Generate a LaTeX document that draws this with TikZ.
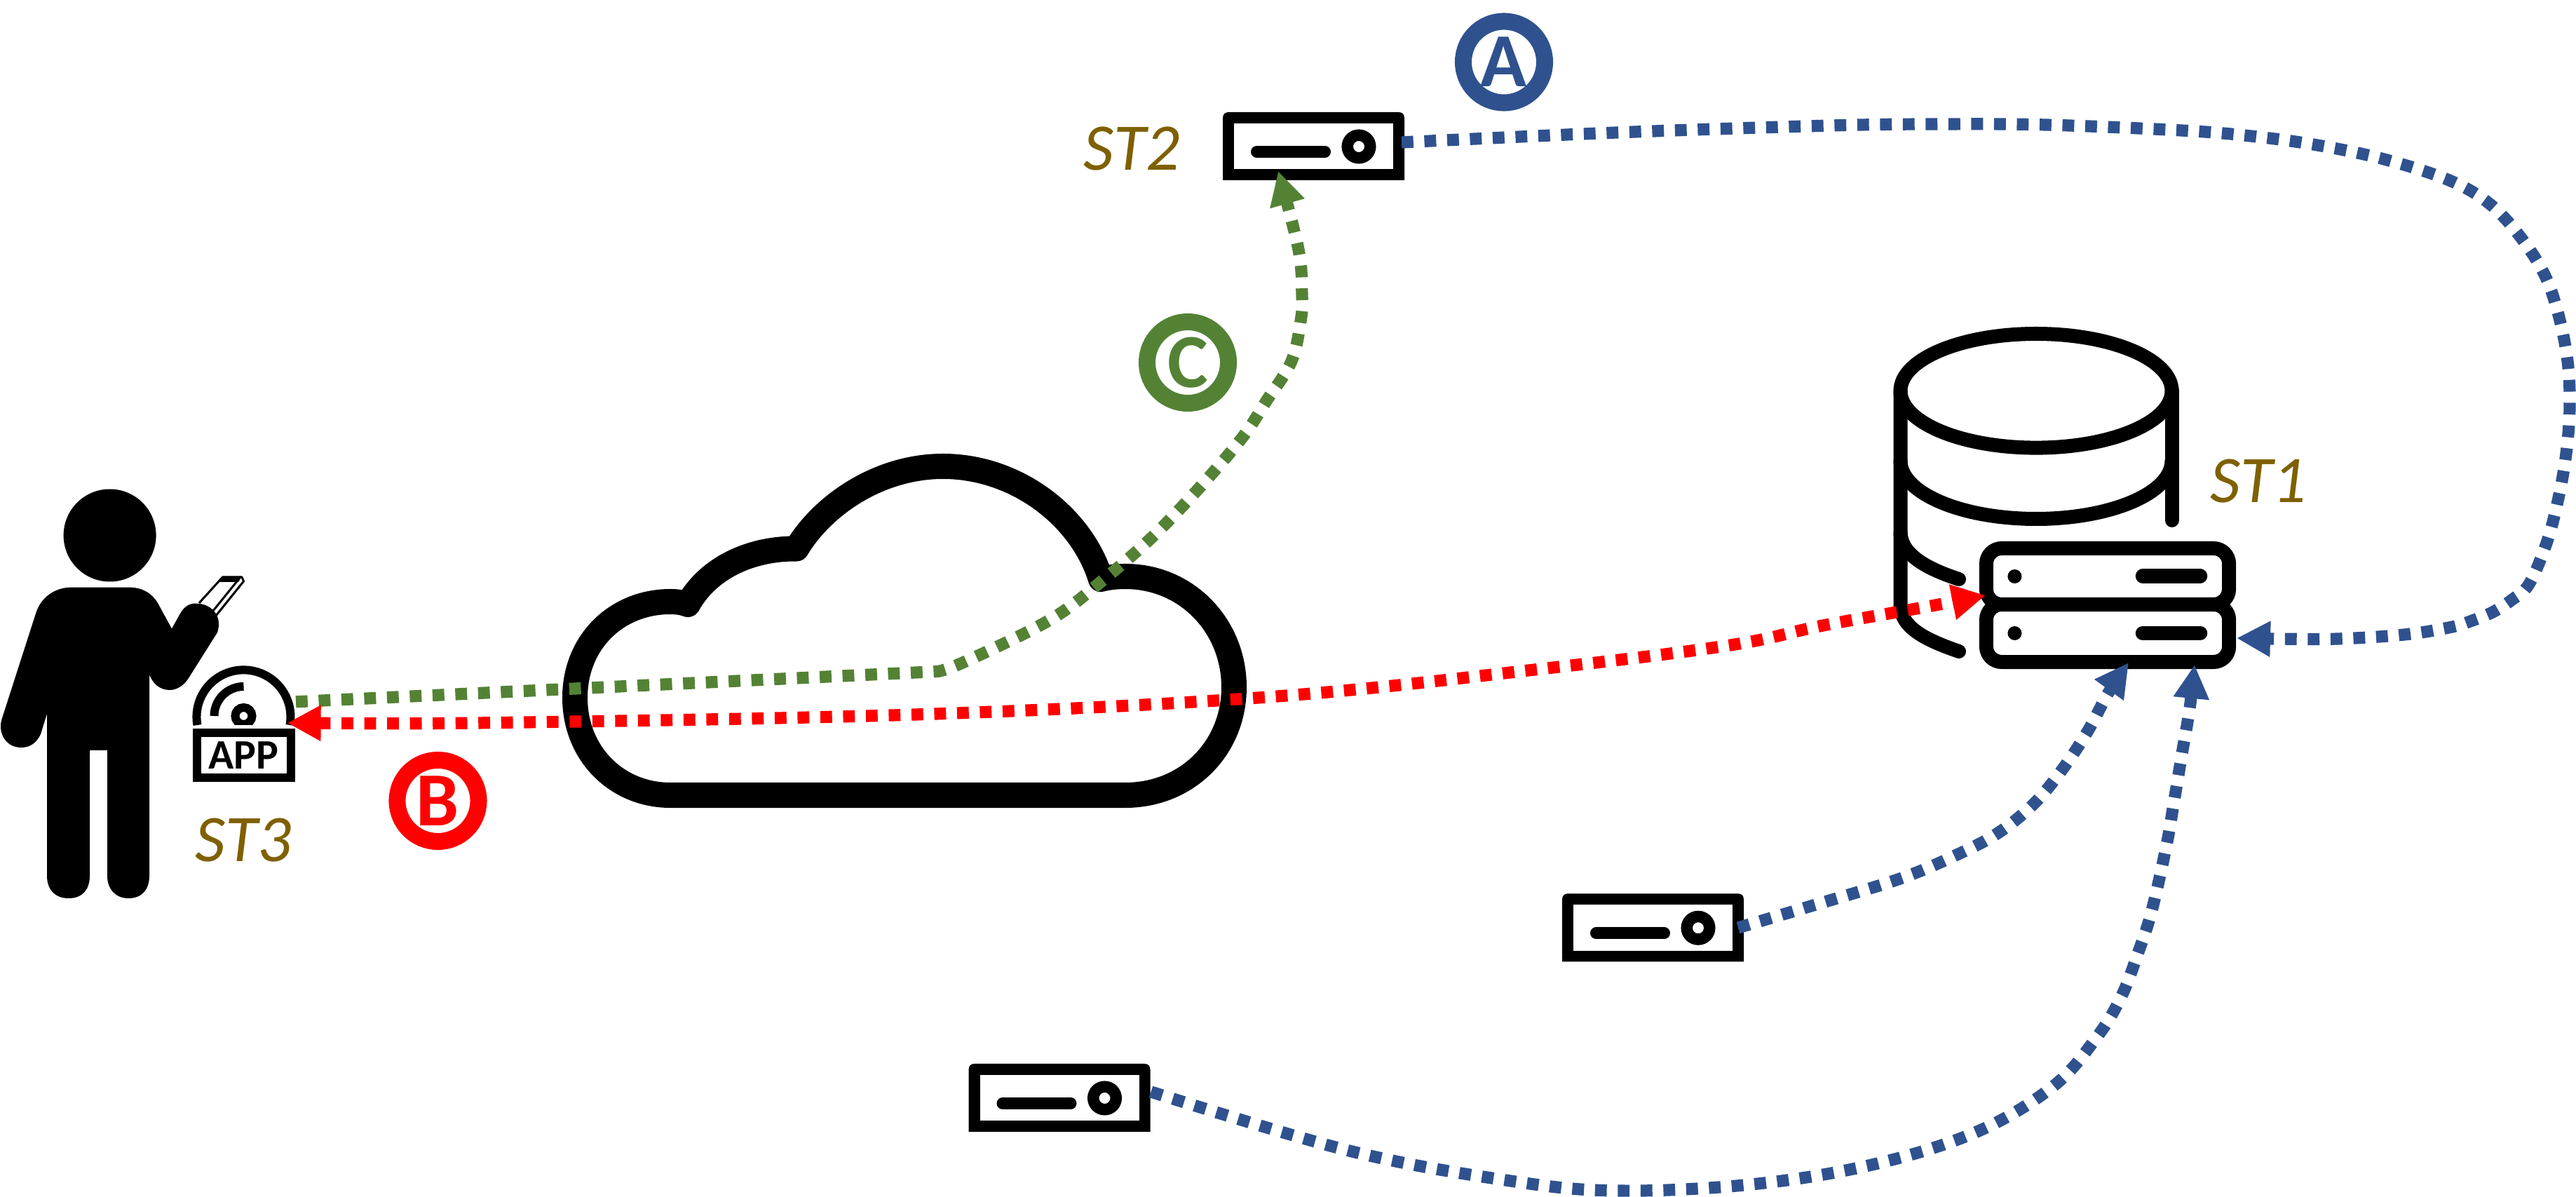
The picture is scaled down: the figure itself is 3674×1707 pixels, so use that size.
\documentclass[tikz,border=0pt]{standalone}
\usepackage{fontspec}
\setmainfont{Carlito}
\usetikzlibrary{arrows.meta}
\definecolor{cblue}{HTML}{2F528F}
\definecolor{cgreen}{HTML}{548235}
\definecolor{cred}{HTML}{FF0000}
\definecolor{cbrown}{HTML}{7F6000}
\tikzset{
  stlabel/.style={font=\fontsize{27}{27}\selectfont\itshape, text=cbrown, inner sep=0pt},
  badge/.style={circle, draw=#1, text=#1, line width=0.24cm, minimum size=1.16cm, inner sep=0pt, font=\fontsize{31}{31}\selectfont\bfseries},
  anchorbox/.style={rectangle, minimum width=2.59cm, minimum height=0.97cm, inner sep=0pt, outer sep=0pt},
  flow/.style={line width=0.172cm, dash pattern=on 0.168cm off 0.157cm, color=#1},
  headend/.style={-{Triangle[length=0.48cm,width=0.48cm]}},
  headboth/.style={{Triangle[length=0.48cm,width=0.48cm]}-{Triangle[length=0.48cm,width=0.48cm]}},
  icon/.style={draw=black, line width=0.2cm, line cap=round, line join=round},
}
\newcommand{\serverIcon}[3]{%
  \node[anchorbox] (#1) at (#2,#3) {};
  \begin{scope}[shift={(#2,#3)}]
    \fill[black] (-129.5,48.5) -- (-129.5,-40) .. controls (-129.5,-46) and (-126,-48.5) .. (-121,-48.5)
      -- (121,-48.5) .. controls (126,-48.5) and (129.5,-46) .. (129.5,-40) -- (129.5,48.5) -- cycle;
    \fill[white] (-113.5,-32.5) rectangle (113.5,33);
    \draw[line width=0.17cm, line cap=round] (-81,8) -- (16,8);
    \draw[line width=0.165cm] (64.5,0.5) circle[radius=16.25];
  \end{scope}
}
\begin{document}
\begin{tikzpicture}[x=0.01cm,y=-0.01cm]
\useasboundingbox (0,0) rectangle (3674,1707);
\fill[white] (0,0) rectangle (3674,1707);

% person
\fill[black] (156.6,763.5) circle[radius=66];
\fill[black] (102,837.6) -- (184,837.6) .. controls (205,837.6) and (218,848) .. (225,860)
  -- (245,896.5) -- (257,875) .. controls (263,864) and (272,859) .. (283.5,861)
  .. controls (300,862) and (312,875) .. (312,889) .. controls (312,895) and (311,899) .. (310,902)
  -- (269,967) .. controls (262,978) and (252,984) .. (242,984) .. controls (228,984) and (218,975) .. (213,962)
  -- (213,1249) .. controls (213,1268) and (203,1281) .. (183,1281) .. controls (165,1281) and (153,1268) .. (153,1249)
  -- (153,1070) -- (128,1070) -- (128,1249) .. controls (128,1268) and (118,1281) .. (98,1281)
  .. controls (78,1281) and (67,1268) .. (67,1249) -- (67,1018) -- (58,1047)
  .. controls (52,1060) and (42,1066) .. (30.5,1066) .. controls (12,1066) and (1,1052) .. (1,1036)
  .. controls (1,1032) and (1.5,1029) .. (2.4,1026) -- (51,875) .. controls (58,852) and (78,837.6) .. (102,837.6) -- cycle;
% phone
\fill[black] (317.5,822) -- (345,822) -- (340,830) -- (312,830) -- cycle;
\draw[black, line width=0.03cm, line join=round] (284,860) -- (317.5,823) -- (345,823) -- (347.5,829) -- (308,878);
\draw[black, line width=0.03cm] (338,829) -- (304,871);

% app icon
\node[rectangle, draw=black, line width=0.12cm, minimum width=1.34cm, minimum height=0.63cm, inner sep=0pt, font=\fontsize{17}{17}\selectfont\bfseries] (app) at (347.7,1077) {APP};
\draw[black, line width=0.12cm] (281.5,1034) arc[start angle=170, end angle=370, radius=67];
\draw[black, line width=0.12cm] (305.5,1021) arc[start angle=180, end angle=270, radius=42];
\begin{scope}
  \clip (320,995) rectangle (375,1034);
  \draw[black, line width=0.12cm] (347.5,1021) circle[radius=12];
\end{scope}

% cloud
\draw[black, line width=0.36cm, line join=round] (956,1134)
  .. controls (880,1134) and (820,1075) .. (820,995)
  .. controls (820,915) and (880,858) .. (956,858)
  .. controls (965,858) and (973,859) .. (981,862)
  .. controls (1010,810) and (1070,782) .. (1136,782.5)
  .. controls (1172,722) and (1252,665) .. (1345,665)
  .. controls (1448,665) and (1542,735) .. (1570,826)
  .. controls (1582,823) and (1593,822) .. (1605,822)
  .. controls (1693,822) and (1760,893) .. (1760,980)
  .. controls (1760,1067) and (1693,1134) .. (1605,1134) -- cycle;
\node[inner sep=0pt] (cloud) at (1290,900) {};

% database
\draw[icon] (2904,557.3) circle[x radius=193.5, y radius=81.3];
\draw[icon] (2710.5,557) -- (2710.5,864) .. controls (2712,895) and (2745,912) .. (2794,929);
\draw[icon] (3097.5,557) -- (3097.5,742);
\draw[icon] (2710.5,657) .. controls (2710.5,703) and (2797,740) .. (2904,740) .. controls (3011,740) and (3097.5,703) .. (3097.5,657);
\draw[icon] (2710.5,760) .. controls (2712,790) and (2745,810) .. (2794,826);
% server stack
\node[rectangle, draw=black, line width=0.2cm, rounded corners=0.22cm, minimum width=3.46cm, minimum height=0.8cm, inner sep=0pt] (stackup) at (3006,822) {};
\node[rectangle, draw=black, line width=0.2cm, rounded corners=0.22cm, minimum width=3.46cm, minimum height=0.82cm, inner sep=0pt] (stacklow) at (3006,903) {};
\fill[black] (2873.4,822) circle[radius=10];
\fill[black] (2873.4,903) circle[radius=10];
\draw[black, line width=0.205cm, line cap=round] (3056,821.5) -- (3138,821.5);
\draw[black, line width=0.205cm, line cap=round] (3056,903) -- (3138,903);

% small servers
\serverIcon{srvA}{1873.5}{208.5}
\serverIcon{srvB}{2357.5}{1322.8}
\serverIcon{srvC}{1511}{1565.5}

% labels
\node[stlabel] (stone) at (3221,686) {ST1};
\node[stlabel] (sttwo) at (1614,212) {ST2};
\node[stlabel] (stthree) at (347,1198) {ST3};
\node[badge=cblue] (ba) at (2145,88.5) {A};
\node[badge=cred] (bb) at (624.5,1142) {B};
\node[badge=cgreen] (bc) at (1694,517) {C};

% connector ends
\coordinate (aout) at (1999,203);
\coordinate (ain) at (3190,910);
\coordinate (bout) at (2479,1323);
\coordinate (bin) at (3036,945);
\coordinate (cout) at (1641.6,1557);
\coordinate (cin) at (3130,948);
\coordinate (gout) at (422,1000.8);
\coordinate (gin) at (1823,244);
\coordinate (rapp) at (409.6,1031);
\coordinate (rdb) at (2832,849);

% connectors
\draw[flow=cblue, headend] plot[smooth, tension=0.6] coordinates {(aout) (2306,189) (2612,179) (2765,177) (2918,178) (3111,186) (3210,194) (3305,207) (3400,227) (3493,257) (3550,290) (3594,337) (3629,391.5) (3649,449) (3662,515) (3665,581) (3660,646.6) (3649,710) (3632.5,773) (3607,833) (3583,855) (3556,872.5) (3526,885) (3495,894.5) (3429,905) (3334,911) (3246,911) (ain)};
\draw[flow=cblue, headend] plot[smooth, tension=0.6] coordinates {(bout) (2583,1292) (2710,1253) (2793,1218) (2851,1187) (2902,1145) (2943,1095) (2978,1042) (3007,988) (bin)};
\draw[flow=cblue, headend] plot[smooth, tension=0.6] coordinates {(cout) (1924,1641) (2154,1684) (2306,1698) (2498,1689) (2670,1661) (2819.5,1614) (2928.5,1549) (2992,1477) (3026,1420) (3049,1360) (3068.6,1300) (3090,1205) (3100,1147) (3112,1075) (3123,1010) (cin)};
\draw[flow=cgreen, headend] (gout) -- (1338,957.5) -- plot[smooth, tension=0.6] coordinates {(1338,957.5) (1368.5,947) (1456.5,905.7) (1514,873.6) (1565,834) (1639,770) (1706.6,700) (1771,625) (1806,572) (1842,515) (1855.6,454) (1857,421) (1852,356) (gin)};
\draw[flow=cred, headboth] plot[smooth, tension=0.6] coordinates {(rapp) (751,1030) (1335,1018) (1821.5,993) (2206,953) (2468,920) (2600,892) (2755,864) (rdb)};
\end{tikzpicture}
\end{document}
